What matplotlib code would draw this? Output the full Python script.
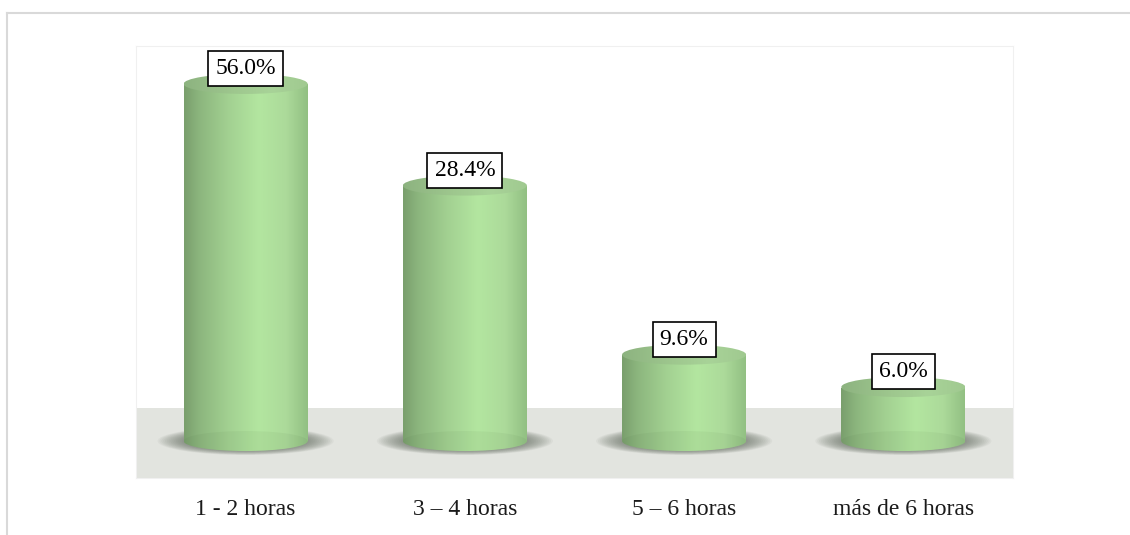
import numpy as np
import matplotlib
matplotlib.use('Agg')
import matplotlib.pyplot as plt
from matplotlib.colors import LinearSegmentedColormap
from matplotlib.patches import Ellipse
from matplotlib.lines import Line2D
from matplotlib.transforms import Affine2D, ScaledTranslation

# data
categories = ['1 - 2 horas', '3 \u2013 4 horas', '5 \u2013 6 horas', 'más de 6 horas']
percent = [56.0, 28.4, 9.6, 6.0]

# the source chart squeezes the tall bar: linear up to 30 %, compressed above
BREAK, RATIO = 30.0, 0.373


def fwd(v):
    v = np.asarray(v, dtype=float)
    return np.where(v <= BREAK, v, BREAK + (v - BREAK) * RATIO)


def inv(u):
    u = np.asarray(u, dtype=float)
    return np.where(u <= BREAK, u, BREAK + (u - BREAK) / RATIO)


W, H = 1130, 535
fig = plt.figure(figsize=(W / 100, H / 100), dpi=100)
fig.patch.set_facecolor('white')

ax = fig.add_axes([136 / W, 57 / H, 877 / W, 432 / H])
ax.set_yscale('function', functions=(fwd, inv))
ymin, ymax = -4.11, 67.3
ax.set_xlim(-0.5, len(categories) - 0.5)
ax.set_ylim(ymin, ymax)

for s in ax.spines.values():
    s.set_color('#f0f0f0')
    s.set_linewidth(0.8)
ax.set_yticks([])
ax.set_xticks(range(len(categories)))
ax.set_xticklabels(categories, fontsize=17, family='Liberation Serif', color='#1a1a1a')
ax.tick_params(axis='x', length=0, pad=15)

# grey floor
ax.axhspan(ymin, 3.7, color='#e2e4df', zorder=1, lw=0)

body_cmap = LinearSegmentedColormap.from_list('body', [
    (0.0, '#7a9f6d'), (0.12, '#8cb67e'), (0.35, '#a2d091'),
    (0.6, '#b3e6a0'), (0.82, '#acda9a'), (1.0, '#91bf82')])
top_cmap = LinearSegmentedColormap.from_list('top', [
    (0.0, '#8db380'), (0.4, '#9ec78e'), (0.7, '#a8d398'), (1.0, '#a0c990')])
grad = np.linspace(0, 1, 256)[np.newaxis, :]

bw = 0.566
x = np.arange(len(categories))
bars = ax.bar(x, percent, width=bw, color='none', lw=0, zorder=3)

half_w = (ax.transData.transform((bw / 2, 0)) - ax.transData.transform((0, 0)))[0]
ry = 10.0


def px_ellipse(xc, yv, a, b, **kw):
    tr = Affine2D().scale(a, b) + ScaledTranslation(xc, yv, ax.transData)
    return Ellipse((0, 0), 2, 2, transform=tr, **kw)


for xc, v, bar in zip(x, percent, bars):
    # soft shadow on the floor
    for k in range(14):
        t = k / 13
        e = px_ellipse(xc, 0, half_w + 26 - 24 * t, 14 - 4 * t,
                       fc='#5a6157', ec='none', alpha=0.055, zorder=2)
        ax.add_patch(e)

    ext = (xc - bw / 2, xc + bw / 2, ymin, ymax)
    im = ax.imshow(grad, extent=ext, aspect='auto', cmap=body_cmap,
                   interpolation='bilinear', zorder=3)
    im.set_clip_path(bar)

    bottom = px_ellipse(xc, 0, half_w, ry, fc='none', ec='none', zorder=3)
    ax.add_patch(bottom)
    im2 = ax.imshow(grad, extent=ext, aspect='auto', cmap=body_cmap,
                    interpolation='bilinear', zorder=3)
    im2.set_clip_path(bottom)
    ax.add_patch(px_ellipse(xc, 0, half_w, ry, fc='#3d5a33', ec='none',
                            alpha=0.06, zorder=3.5))

    top = px_ellipse(xc, v, half_w, ry, fc='none', ec='none', zorder=4)
    ax.add_patch(top)
    im3 = ax.imshow(grad, extent=ext, aspect='auto', cmap=top_cmap,
                    interpolation='bilinear', zorder=4)
    im3.set_clip_path(top)

    ax.annotate(f'{v:.1f}%', xy=(xc, v), xytext=(0, 3.5), textcoords='offset points',
                ha='center', va='bottom', fontsize=17, family='Liberation Serif',
                bbox=dict(boxstyle='square,pad=0.3', fc='white', ec='black', lw=1.2),
                zorder=6)

ax.set_xlim(-0.5, len(categories) - 0.5)
ax.set_ylim(ymin, ymax)

# outer frame (top and left edges only)
fig.add_artist(Line2D([7 / W, 1], [1 - 12.5 / H, 1 - 12.5 / H], transform=fig.transFigure,
                      color='#d9d9d9', lw=1.5))
fig.add_artist(Line2D([7 / W, 7 / W], [0, 1 - 12.5 / H], transform=fig.transFigure,
                      color='#d9d9d9', lw=1.5))

fig.savefig('out.png', dpi=100, facecolor='white')
